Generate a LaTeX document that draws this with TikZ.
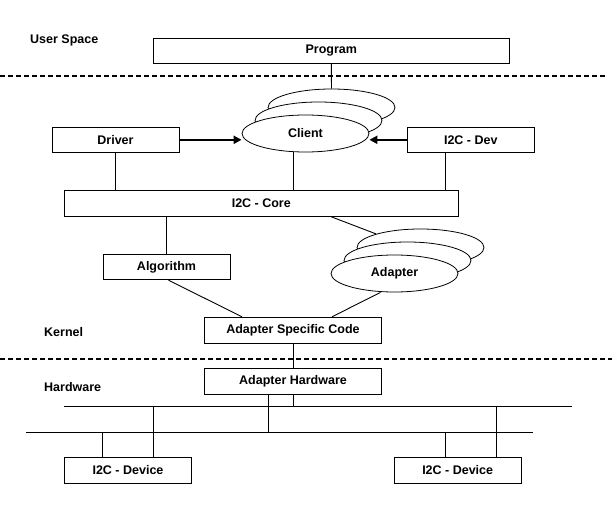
\documentclass[tikz,border=0pt]{standalone}
\usepackage{fontspec}
\setmainfont{Liberation Sans}
\usepackage{tikz}
\usetikzlibrary{arrows.meta,positioning,shapes.geometric}
\colorlet{i2cInk}{black}
\tikzset{
  >=Triangle,
  font=\bfseries\fontsize{12.5}{15}\selectfont,
  % boxes are software/hardware blocks, stacked ellipses are multiple instances
  box/.style={
    draw=i2cInk,
    fill=white,
    line width=1pt,
    minimum width=127pt,
    minimum height=25pt,
    inner sep=0pt
  },
  stackell/.style={
    ellipse,
    draw=i2cInk,
    fill=white,
    line width=0.8pt,
    minimum width=127pt,
    minimum height=37pt,
    inner sep=0pt
  },
  lab/.style={
    anchor=west,
    inner sep=0pt
  },
  link/.style={
    draw=i2cInk,
    line width=0.9pt
  },
  arrow/.style={
    -{Triangle[length=8pt,width=8pt]},
    draw=i2cInk,
    line width=2pt
  },
  layerline/.style={
    draw=i2cInk,
    line width=1.6pt,
    dash pattern=on 5pt off 3pt
  }
}

\begin{document}
\begin{tikzpicture}[x=1pt,y=-1pt]
\useasboundingbox (0,0) rectangle (616,508);

\node[lab] (userlbl) at (30,40) {User Space};
\node[lab] (kernellbl) at (44,332) {Kernel};
\node[lab] (hwlbl) at (44,387) {Hardware};

\coordinate (sepUw) at (0,76);
\coordinate (sepUe) at (605,76);
\coordinate (sepKw) at (0,359);
\coordinate (sepKe) at (612,359);
\draw[layerline] (sepUw) -- (sepUe);
\draw[layerline] (sepKw) -- (sepKe);

\node[box, minimum width=356pt] (program) at (331.3,50.8) {Program};

\node[stackell] (clientC) at (331.5,107.5) {};
\node[stackell] (clientB) at (318.5,120.5) {};
\node[stackell] (clientA) at (305.5,133.5) {Client};

\node[box] (driver) at (115.5,139.8) {Driver};
\node[box] (i2cdev) at (470.8,139.8) {I2C - Dev};
\node[box, minimum width=394pt, minimum height=26pt] (core) at (261.3,203.3) {I2C - Core};

\node[stackell] (adapterC) at (420.5,247.5) {};
\node[stackell] (adapterB) at (407.5,260.5) {};
\node[stackell] (adapterA) at (394.5,273.5) {Adapter};

\node[box] (algorithm) at (166.5,267.2) {Algorithm};
\node[box, minimum width=177pt, minimum height=26pt] (asc) at (293,330.3) {Adapter Specific Code};
\node[box, minimum width=177pt, minimum height=26pt] (adhw) at (293,381.3) {Adapter Hardware};

\node[box, minimum height=26pt] (dev1) at (128,470.3) {I2C - Device};
\node[box, minimum height=26pt] (dev2) at (457.7,470.3) {I2C - Device};

\draw[link] (program.south) -- (clientC.north);
\draw[arrow] (driver.east) -- (driver.east -| clientA.west);
\draw[arrow] (i2cdev.west) -- (i2cdev.west -| clientA.east);
\draw[link] (driver.south) -- (driver.south |- core.north);
\draw[link] ([xshift=-12pt]clientA.south) -- ([xshift=-12pt]clientA.south |- core.north);
\draw[link] ([xshift=-25.5pt]i2cdev.south) -- ([xshift=-25.5pt]i2cdev.south |- core.north);
\draw[link] (core.south -| algorithm.north) -- (algorithm.north);
\draw[link] ([xshift=70pt]core.south) -- (adapterC.163);
\draw[link] ([xshift=2pt]algorithm.south) -- ([xshift=-51pt]asc.north);
\draw[link] ([xshift=-14pt]adapterA.south) -- ([xshift=39pt]asc.north);
\draw[link] (asc.south) -- (adhw.north);

\coordinate (busAw) at (64,406.7);
\coordinate (busAe) at (571.7,406.7);
\coordinate (busBw) at (26,432.3);
\coordinate (busBe) at (533.3,432.3);
\draw[link] (busAw) -- (busAe);
\draw[link] (busBw) -- (busBe);
\draw[link] (adhw.south) -- (adhw.south |- busAw);
\draw[link] ([xshift=-25pt]adhw.south) -- ([xshift=-25pt]adhw.south |- busBw);
\draw[link] ([xshift=-25.5pt]dev1.north) -- ([xshift=-25.5pt]dev1.north |- busBw);
\draw[link] ([xshift=25.5pt]dev1.north) -- ([xshift=25.5pt]dev1.north |- busAw);
\draw[link] ([xshift=-12pt]dev2.north) -- ([xshift=-12pt]dev2.north |- busBw);
\draw[link] ([xshift=39pt]dev2.north) -- ([xshift=39pt]dev2.north |- busAw);

\end{tikzpicture}
\end{document}
